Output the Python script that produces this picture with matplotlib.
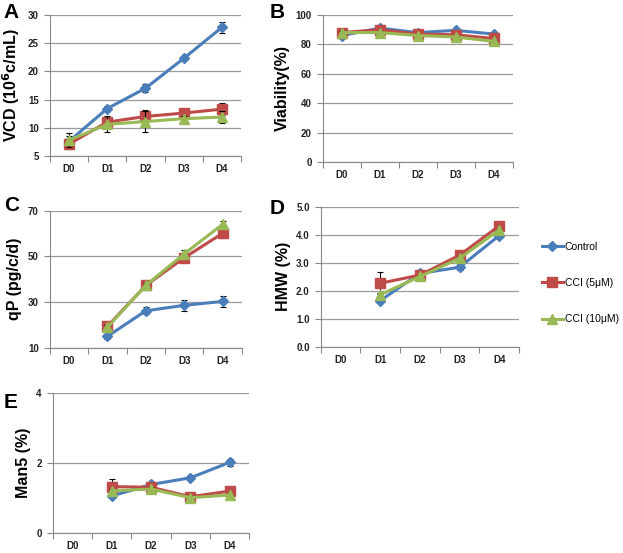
import matplotlib
matplotlib.use('Agg')
import matplotlib.pyplot as plt
import numpy as np

plt.rcParams['font.family'] = ['Liberation Sans', 'DejaVu Sans']

days = ['D0', 'D1', 'D2', 'D3', 'D4']
labels = ['Control', 'CCI (5\u03bcM)', 'CCI (10\u03bcM)']
colors = ['#4a7ebb', '#be4b48', '#98b954']
markers = ['D', 's', '^']
msizes = [5, 6.5, 6.5]

# A - VCD
vcd = [[7.6, 13.4, 17.0, 22.3, 27.8],
       [7.1, 11.0, 12.0, 12.6, 13.3],
       [7.8, 10.6, 11.1, 11.6, 11.9]]
vcd_err = [[0.9, 0.5, 0.7, 0.3, 1.0],
           [0.8, 0.6, 1.2, 0.4, 1.0],
           [1.2, 1.4, 1.8, 0.4, 1.0]]

# B - viability
via = [[86, 91, 88, 89.5, 87],
       [88, 90, 87, 86.5, 84],
       [88, 88, 86, 85, 82]]
via_err = [[0.8, 0.8, 0.8, 0.8, 0.8]] * 3

# C - qP (no D0)
qp = [[np.nan, 15.0, 26.2, 28.6, 30.3],
      [np.nan, 19.4, 37.3, 49.4, 60.1],
      [np.nan, 19.0, 37.3, 51.1, 64.0]]
qp_err = [[0, 1.0, 1.5, 2.5, 2.5],
          [0, 1.0, 1.0, 1.5, 2.0],
          [0, 1.0, 1.0, 1.5, 1.5]]

# D - HMW
hmw = [[np.nan, 1.65, 2.62, 2.84, 3.97],
       [np.nan, 2.27, 2.56, 3.27, 4.32],
       [np.nan, 1.86, 2.51, 3.16, 4.17]]
hmw_err = [[0, 0.08, 0.05, 0.1, 0.05],
           [0, 0.4, 0.05, 0.05, 0.05],
           [0, 0.05, 0.05, 0.05, 0.05]]

# E - Man5
man5 = [[np.nan, 1.06, 1.39, 1.58, 2.02],
        [np.nan, 1.33, 1.31, 1.04, 1.20],
        [np.nan, 1.21, 1.26, 1.01, 1.09]]
man5_err = [[0, 0.07, 0.05, 0.04, 0.1],
            [0, 0.22, 0.05, 0.04, 0.04],
            [0, 0.05, 0.05, 0.04, 0.04]]

fig = plt.figure(figsize=(6.23, 5.53), dpi=100)


def panel(rect, vals, errs, ylim, yticks, fmt, ylabel, letter, lpos):
    ax = fig.add_axes(rect)
    x = np.arange(len(days))
    for i in range(3):
        ax.errorbar(x, vals[i], yerr=errs[i], color=colors[i], marker=markers[i],
                    ms=msizes[i], lw=2.2, ecolor='black', elinewidth=0.8,
                    capsize=2.5, capthick=0.8, label=labels[i], zorder=3 + i)
    ax.set_xlim(-0.5, 4.5)
    ax.set_ylim(*ylim)
    ax.set_yticks(yticks)
    ax.set_yticklabels([fmt % t for t in yticks])
    ax.set_xticks(np.arange(-0.5, 5, 1))
    ax.set_xticklabels([])
    ax.set_xticks(x, minor=True)
    ax.set_xticklabels(days, minor=True)
    ax.tick_params(axis='x', which='minor', length=0, pad=6, labelsize=7)
    ax.tick_params(axis='x', which='major', length=4, color='#888888')
    ax.tick_params(axis='y', length=4, color='#888888', labelsize=7, pad=4)
    for lab in ax.get_xticklabels(minor=True) + ax.get_yticklabels():
        lab.set_fontweight('bold')
        lab.set_color('#222222')
    ax.grid(axis='y', color='#9a9a9a', lw=0.9)
    ax.set_axisbelow(True)
    for s in ['top', 'right']:
        ax.spines[s].set_visible(False)
    for s in ['left', 'bottom']:
        ax.spines[s].set_color('#888888')
    ax.set_ylabel(ylabel, fontsize=11.5, fontweight='bold', labelpad=4)
    fig.text(lpos[0], lpos[1], letter, fontsize=15, fontweight='bold', va='top')
    return ax


panel([0.080, 0.718, 0.307, 0.255], vcd, vcd_err, (5, 30), [5, 10, 15, 20, 25, 30], '%d',
      'VCD (10$^{\\mathbf{6}}$c/mL)', 'A', (0.006, 0.995))
panel([0.518, 0.707, 0.305, 0.266], via, via_err, (0, 100), [0, 20, 40, 60, 80, 100], '%d',
      'Viability(%)', 'B', (0.432, 0.995))
panel([0.080, 0.371, 0.308, 0.248], qp, qp_err, (10, 70), [10, 30, 50, 70], '%d',
      'qP (pg/c/d)', 'C', (0.006, 0.645))
axd = panel([0.515, 0.373, 0.318, 0.253], hmw, hmw_err, (0, 5), [0, 1, 2, 3, 4, 5], '%.1f',
            'HMW (%)', 'D', (0.432, 0.640))
panel([0.085, 0.036, 0.315, 0.253], man5, man5_err, (0, 4), [0, 2, 4], '%d',
      'Man5 (%)', 'E', (0.006, 0.290))

h, l = axd.get_legend_handles_labels()
h = [hh[0] for hh in h]
fig.legend(h, l, loc='center left', bbox_to_anchor=(0.870, 0.488), frameon=False,
           fontsize=7.5, labelspacing=2.5, handlelength=2.0, handletextpad=0.2,
           borderaxespad=0, borderpad=0)

fig.savefig('out.png', dpi=100)
